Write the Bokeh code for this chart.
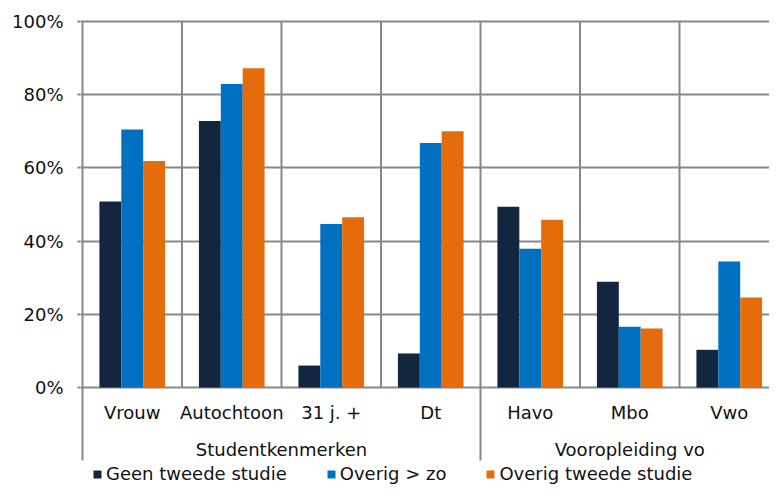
import numpy as np
from bokeh.plotting import figure
from bokeh.models import (Range1d, FixedTicker, PrintfTickFormatter, Legend,
                          LegendItem, ColumnDataSource)
from bokeh.core.properties import value
from bokeh.embed import file_html
from bokeh.resources import INLINE

# ---- data ----
categories = ["Vrouw", "Autochtoon", "31 j. +", "Dt", "Havo", "Mbo", "Vwo"]
groups = ["Studentkenmerken", "Vooropleiding vo"]
group_sizes = [4, 3]
series_names = ["Geen tweede studie", "Overig > zo", "Overig tweede studie"]
geen_tweede = [50.8, 72.8, 6.0, 9.3, 49.4, 28.9, 10.3]
overig_zo = [70.5, 82.9, 44.7, 66.8, 37.9, 16.6, 34.4]
overig_tweede = [61.9, 87.2, 46.5, 70.0, 45.8, 16.1, 24.6]
y_ticks = [0, 20, 40, 60, 80, 100]

# ---- style ----
colors = ["#12263f", "#0070c0", "#e46c0a"]
grid_col = "#888888"
txt_col = "#111111"
FONT = "DejaVu Sans"
FS = "18px"

W, H = 769, 484
left, top = 80, 17
cat_px = 99.5          # pixels per category
unit_px = 3.66         # pixels per percent
zero_px = 387          # figure-y of the 0 line
sep_px = 73            # separator lines length below axis

x_start = -2 / cat_px
x_end = x_start + (W - left) / cat_px
y_end = 100 + ((zero_px - 100 * unit_px) - top) / unit_px
y_start = -(H - zero_px) / unit_px

p = figure(width=W, height=H, output_backend="svg", toolbar_location=None,
           x_axis_location=None,
           x_range=Range1d(x_start, x_end), y_range=Range1d(y_start, y_end),
           min_border_left=left, min_border_right=0, min_border_top=top,
           min_border_bottom=0)
p.outline_line_color = None
p.background_fill_color = "white"
p.border_fill_color = "white"
p.xgrid.visible = False

# y axis
p.yaxis.ticker = FixedTicker(ticks=y_ticks)
p.yaxis.formatter = PrintfTickFormatter(format="%d%%")
p.yaxis.axis_line_color = None
p.yaxis.major_tick_line_color = grid_col
p.yaxis.major_tick_line_width = 2
p.yaxis.major_tick_out = 3
p.yaxis.major_tick_in = 0
p.yaxis.minor_tick_line_color = None
p.yaxis.major_label_standoff = 14
p.yaxis.major_label_text_font = FONT
p.yaxis.major_label_text_font_size = FS
p.yaxis.major_label_text_color = txt_col
p.ygrid.ticker = FixedTicker(ticks=y_ticks)
p.ygrid.grid_line_color = grid_col
p.ygrid.grid_line_width = 2

# vertical separators
n = len(categories)
bounds = np.arange(n)
group_starts = set(np.cumsum([0] + group_sizes[:-1]).tolist())
y0s = [(-sep_px / unit_px) if b in group_starts else 0 for b in bounds]
p.segment(x0=bounds, x1=bounds, y0=y0s, y1=[100] * n,
          line_color=grid_col, line_width=2)

# bars
centers = np.arange(n) + 0.5
bw = 0.22
renderers = []
for k, (vals, col) in enumerate(zip([geen_tweede, overig_zo, overig_tweede], colors)):
    src = ColumnDataSource(dict(x=centers + (k - 1) * bw, top=vals))
    r = p.vbar(x="x", top="top", width=bw, bottom=0, source=src,
               fill_color=col, line_color=None)
    renderers.append(r)

# category labels
p.text(x=centers, y=[0] * n, text=categories, y_offset=25,
       text_align="center", text_baseline="middle",
       text_font=value(FONT), text_font_size=FS, text_color=txt_col)

# group labels
gstarts = np.cumsum([0] + group_sizes[:-1])
gcenters = gstarts + np.array(group_sizes) / 2
p.text(x=gcenters, y=[0] * len(groups), text=groups, y_offset=62,
       text_align="center", text_baseline="middle",
       text_font=value(FONT), text_font_size=FS, text_color=txt_col)

legend = Legend(items=[LegendItem(label=nm, renderers=[r])
                       for nm, r in zip(series_names, renderers)],
                orientation="horizontal", location=(12, 0),
                glyph_width=10, glyph_height=10, label_standoff=4,
                spacing=39, padding=0, margin=0,
                border_line_color=None, background_fill_alpha=0,
                label_text_font=FONT, label_text_font_size=FS,
                label_text_color=txt_col)
p.add_layout(legend)

open("out.html", "w").write(file_html(p, INLINE))
